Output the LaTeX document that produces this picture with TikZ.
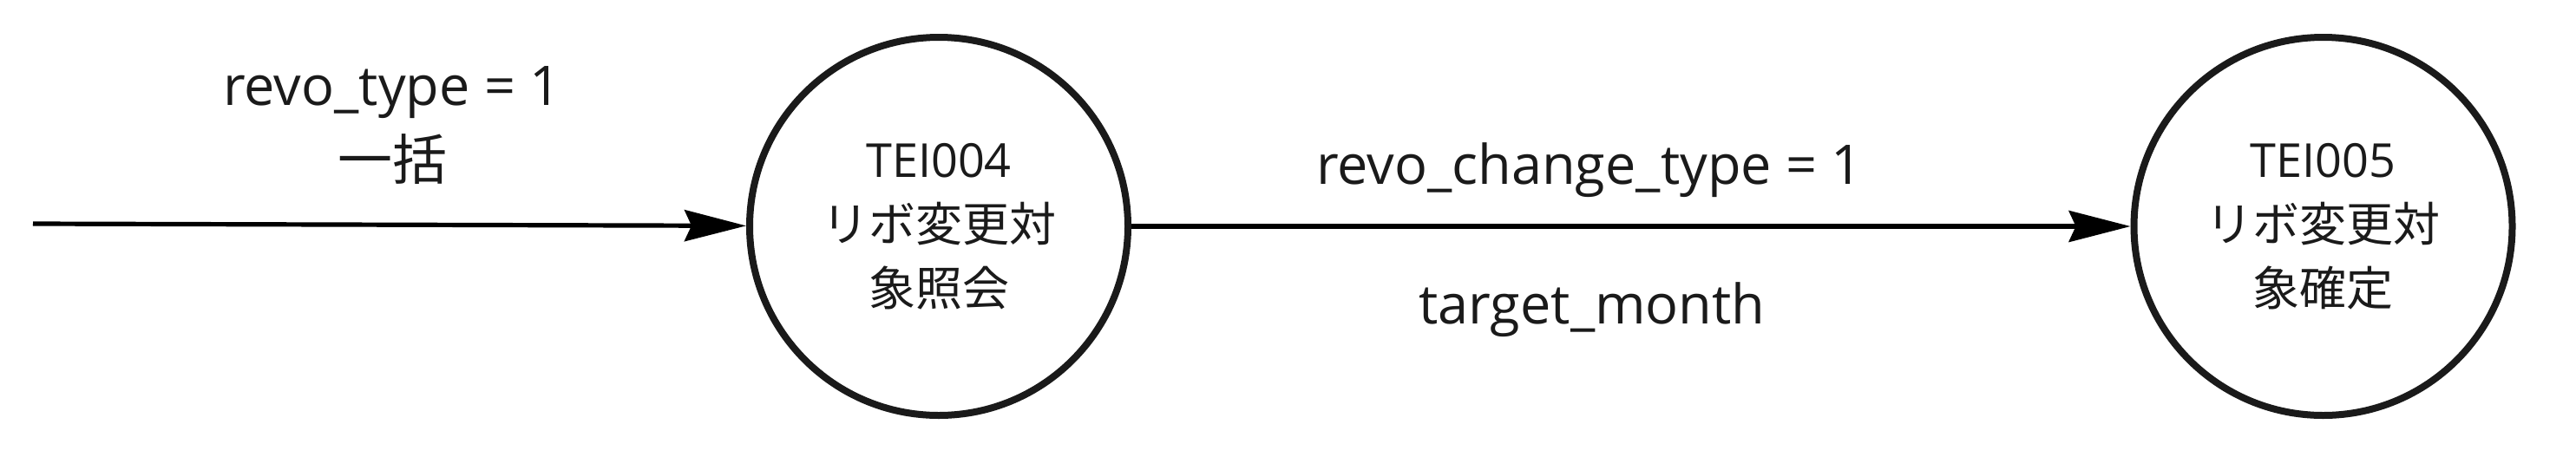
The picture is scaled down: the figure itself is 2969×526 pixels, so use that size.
\documentclass[tikz,border=0pt]{standalone}
\usepackage{fontspec}
\setmainfont{Open Sans}
\newfontfamily\cjk{Noto Sans CJK JP}
\usetikzlibrary{arrows.meta}
\definecolor{ink}{HTML}{1A1A1A}
\begin{document}
\begin{tikzpicture}[x=0.5pt,y=-0.5pt,
  state/.style={circle, draw=ink, line width=4pt, minimum size=218pt, inner sep=0pt,
    align=center, text=ink, font=\fontsize{27}{37}\selectfont},
  lbl/.style={text=ink, inner sep=0pt, align=center, font=\fontsize{31.5}{43}\selectfont},
  flow/.style={draw=black, line width=2.6pt, -{Stealth[length=35.5pt,width=18pt,inset=4pt]}}
]
\useasboundingbox (0,0) rectangle (2969,526);
\node[state] (c1) at (1082,261) {TEI004\\{\cjk リボ変更対}\\{\cjk 象照会}};
\node[state] (c2) at (2677.5,261) {TEI005\\{\cjk リボ変更対}\\{\cjk 象確定}};
\coordinate (start) at (38,258);
\draw[flow] (start) -- (c1);
\draw[flow] (c1) -- (c2);
\node[lbl, anchor=base] (l1) at (452,207) {revo\_type = 1\\{\cjk 一括}};
\node[lbl, anchor=base] (l2) at (1832,212) {revo\_change\_type = 1};
\node[lbl, anchor=base] (l3) at (1835,373) {target\_month};
\end{tikzpicture}
\end{document}
